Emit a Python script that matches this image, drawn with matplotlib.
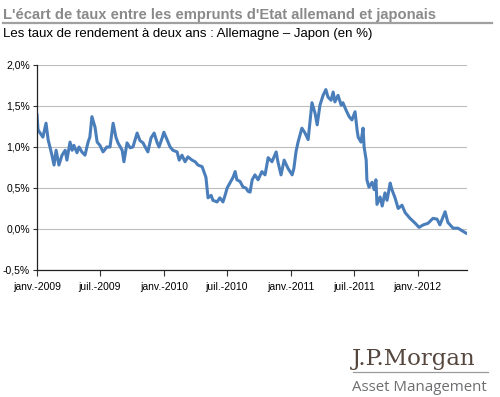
import matplotlib

matplotlib.use("Agg")
import matplotlib.pyplot as plt
import pandas as pd
from matplotlib.ticker import FuncFormatter

# Spread 2-year Bund - JGB (%)
dates = [
    "2009-01-01", "2009-01-04", "2009-01-10", "2009-01-18", "2009-01-27", "2009-02-02",
    "2009-02-13", "2009-02-19", "2009-02-25", "2009-03-05", "2009-03-14", "2009-03-23",
    "2009-03-28", "2009-04-06", "2009-04-12", "2009-04-17", "2009-04-26", "2009-05-02",
    "2009-05-10", "2009-05-19", "2009-05-28", "2009-06-02", "2009-06-08", "2009-06-17",
    "2009-06-23", "2009-07-01", "2009-07-10", "2009-07-21", "2009-07-30", "2009-08-08",
    "2009-08-16", "2009-08-22", "2009-09-03", "2009-09-08", "2009-09-17", "2009-09-26",
    "2009-10-04", "2009-10-16", "2009-10-24", "2009-11-02", "2009-11-16", "2009-11-25",
    "2009-12-04", "2009-12-12", "2009-12-18", "2009-12-27", "2010-01-01", "2010-01-10",
    "2010-01-19", "2010-01-27", "2010-02-08", "2010-02-14", "2010-02-22", "2010-03-03",
    "2010-03-11", "2010-03-23", "2010-04-01", "2010-04-09", "2010-04-21", "2010-04-26",
    "2010-05-02", "2010-05-05", "2010-05-08", "2010-05-17", "2010-05-22", "2010-06-03",
    "2010-06-11", "2010-06-20", "2010-06-26", "2010-07-02", "2010-07-10", "2010-07-19",
    "2010-07-25", "2010-07-30", "2010-08-08", "2010-08-17", "2010-08-25", "2010-08-31",
    "2010-09-06", "2010-09-12", "2010-09-20", "2010-09-29", "2010-10-10", "2010-10-19",
    "2010-10-28", "2010-11-08", "2010-11-20", "2010-11-25", "2010-12-04", "2010-12-13",
    "2010-12-24", "2011-01-05", "2011-01-10", "2011-01-16", "2011-01-22", "2011-02-02",
    "2011-02-11", "2011-02-20", "2011-02-25", "2011-03-03", "2011-03-12", "2011-03-18",
    "2011-03-26", "2011-04-04", "2011-04-12", "2011-04-18", "2011-04-27", "2011-05-03",
    "2011-05-08", "2011-05-17", "2011-05-26", "2011-05-31", "2011-06-09", "2011-06-18",
    "2011-06-26", "2011-07-05", "2011-07-11", "2011-07-14", "2011-07-22", "2011-07-28",
    "2011-07-31", "2011-08-06", "2011-08-08", "2011-08-14", "2011-08-23", "2011-08-29",
    "2011-09-03", "2011-09-06", "2011-09-15", "2011-09-21", "2011-09-29", "2011-10-05",
    "2011-10-14", "2011-10-19", "2011-10-28", "2011-11-06", "2011-11-17", "2011-11-26",
    "2011-12-10", "2011-12-25", "2012-01-05", "2012-01-17", "2012-01-31", "2012-02-14",
    "2012-02-26", "2012-03-05", "2012-03-20", "2012-03-28", "2012-04-12", "2012-04-26",
    "2012-05-11", "2012-05-19",
]
spread = [
    1.39, 1.21, 1.17, 1.12, 1.29, 1.09,
    0.90, 0.78, 0.96, 0.78, 0.90, 0.96,
    0.84, 1.06, 0.96, 1.02, 0.93, 1.00,
    0.94, 0.90, 1.06, 1.12, 1.37, 1.24,
    1.06, 1.02, 0.94, 1.00, 1.00, 1.29,
    1.12, 1.05, 0.96, 0.82, 1.05, 0.99,
    1.00, 1.17, 1.08, 1.05, 0.94, 1.11,
    1.17, 1.06, 1.00, 1.11, 1.18, 1.09,
    1.00, 0.96, 0.94, 0.84, 0.90, 0.82,
    0.88, 0.84, 0.82, 0.78, 0.76, 0.70,
    0.63, 0.50, 0.38, 0.41, 0.35, 0.33,
    0.38, 0.33, 0.41, 0.50, 0.56, 0.63,
    0.70, 0.60, 0.58, 0.51, 0.50, 0.46,
    0.45, 0.60, 0.66, 0.60, 0.70, 0.66,
    0.87, 0.82, 0.94, 0.82, 0.66, 0.84,
    0.74, 0.66, 0.74, 0.94, 1.06, 1.23,
    1.17, 1.09, 1.30, 1.54, 1.41, 1.27,
    1.51, 1.63, 1.70, 1.61, 1.57, 1.67,
    1.55, 1.63, 1.51, 1.54, 1.45, 1.37,
    1.33, 1.43, 1.20, 1.12, 1.06, 1.23,
    1.00, 0.84, 0.60, 0.51, 0.57, 0.48,
    0.60, 0.30, 0.39, 0.28, 0.44, 0.35,
    0.56, 0.48, 0.38, 0.25, 0.29, 0.20,
    0.13, 0.07, 0.02, 0.05, 0.07, 0.13,
    0.12, 0.05, 0.21, 0.08, 0.01, 0.01,
    -0.03, -0.05,
]
x_start, x_end = "2009-01-01", "2012-05-22"
tick_dates = ["2009-01-01", "2009-07-01", "2010-01-01", "2010-07-01",
              "2011-01-01", "2011-07-01", "2012-01-01"]
tick_labels = ["janv.-2009", "juil.-2009", "janv.-2010", "juil.-2010",
               "janv.-2011", "juil.-2011", "janv.-2012"]
y_ticks = [-0.5, 0.0, 0.5, 1.0, 1.5, 2.0]

title = "L'écart de taux entre les emprunts d'Etat allemand et japonais"
subtitle = "Les taux de rendement à deux ans : Allemagne – Japon (en %)"

plt.rcParams["font.family"] = ["Liberation Sans", "DejaVu Sans"]

fig = plt.figure(figsize=(5.0, 3.97), dpi=100)
fig.patch.set_facecolor("white")

fig.text(0.006, 0.963, title, fontsize=10.6, fontweight="bold", color="#8a8a8a",
         ha="left", va="center")
fig.add_artist(plt.Line2D([0.006, 0.984], [0.942, 0.942], color="#a0a0a0", lw=1.6))
fig.text(0.006, 0.914, subtitle, fontsize=9.5, color="black", ha="left", va="center")

ax = fig.add_axes([0.074, 0.3199, 0.86, 0.5164])
ax.plot(pd.to_datetime(dates), spread, color="#4a7ebb", lw=2.2, solid_joinstyle="round")

ax.set_xlim(pd.Timestamp(x_start), pd.Timestamp(x_end))
ax.set_ylim(-0.5, 2.0)
ax.set_yticks(y_ticks)
ax.yaxis.set_major_formatter(FuncFormatter(lambda v, _: f"{v:.1f}%".replace(".", ",")))
ax.set_xticks(pd.to_datetime(tick_dates))
ax.set_xticklabels(tick_labels)
ax.tick_params(axis="x", length=4, width=0.8, labelsize=7.5, pad=5, color="#333333")
ax.tick_params(axis="y", length=3, width=0.8, labelsize=7.5, pad=2, color="#333333")

ax.grid(axis="y", color="#bdbdbd", lw=0.8)
ax.set_axisbelow(True)
for side in ("top", "right"):
    ax.spines[side].set_visible(False)
for side in ("left", "bottom"):
    ax.spines[side].set_color("#222222")
    ax.spines[side].set_linewidth(0.9)

# logo
fig.text(0.704, 0.081, "J.P.Morgan", fontsize=16.5, family="DejaVu Serif",
         color="#55463e", ha="left", va="baseline")
fig.add_artist(plt.Line2D([0.706, 0.975], [0.064, 0.064], color="#9a9a9a", lw=0.9))
fig.text(0.704, 0.016, "Asset Management", fontsize=10.8, family="Open Sans",
         color="#6d6e70", ha="left", va="baseline")

fig.savefig("out.png", dpi=100, facecolor="white")
